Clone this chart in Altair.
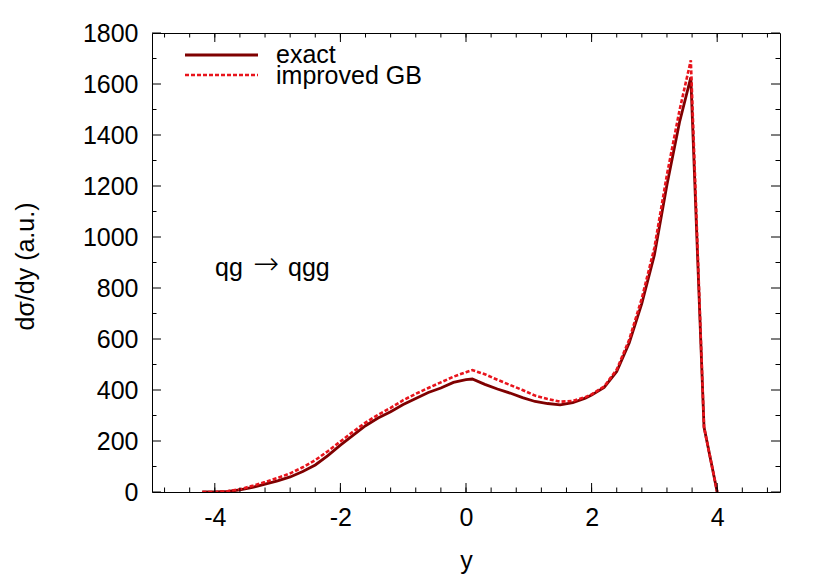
import altair as alt
import pandas as pd

# ---- data ----
y_pos = [-4.2, -4.0, -3.8, -3.6, -3.4, -3.2, -3.0, -2.8, -2.6, -2.4, -2.2, -2.0,
         -1.8, -1.6, -1.4, -1.2, -1.0, -0.8, -0.6, -0.4, -0.2, 0.0,
         0.1, 0.3, 0.5, 0.7, 0.9, 1.1, 1.3, 1.5, 1.7, 1.9,
         2.0, 2.2, 2.4, 2.6, 2.8, 3.0, 3.2, 3.4,
         3.58, 3.79, 4.0]
exact = [0, 0, 2, 8, 18, 31, 44, 59, 80, 106, 143, 184,
         222, 260, 290, 315, 343, 367, 390, 408, 430, 441,
         443, 422, 404, 388, 370, 355, 347, 342, 350, 368,
         380, 410, 472, 585, 740, 930, 1205, 1450,
         1626, 255, 0]
improved_gb = [0, 0, 3, 11, 24, 39, 55, 73, 97, 125, 160, 198,
               236, 272, 303, 330, 360, 385, 408, 430, 452, 470,
               478, 462, 440, 420, 400, 378, 365, 354, 357, 372,
               383, 414, 480, 598, 760, 958, 1245, 1497,
               1693, 255, 0]

x_major = [-4, -2, 0, 2, 4]
x_minor = [round(-4.8 + 0.4 * i, 1) for i in range(25)]
y_major = [0, 200, 400, 600, 800, 1000, 1200, 1400, 1600, 1800]
y_minor = [100, 300, 500, 700, 900, 1100, 1300, 1500, 1700]

series_names = ["exact", "improved GB"]
series_colors = ["#7f0000", "#e8141c"]
annotation_parts = ["qg", "\u2192", "qgg"]

W, H = 628, 459
FONT = "Liberation Sans"
FS = 25

df_exact = pd.DataFrame({"y": y_pos, "v": exact})
df_gb = pd.DataFrame({"y": y_pos, "v": improved_gb})

xs = alt.Scale(domain=[-5, 5], nice=False, zero=False)
ys = alt.Scale(domain=[0, 1800], nice=False)

x_axis = alt.Axis(values=x_major, title="y", titleX=W / 2, titleY=68,
                  titleBaseline="middle", titleAlign="center",
                  labelPadding=13, labelBaseline="top",
                  labelExpr="'' + datum.value")
y_axis = alt.Axis(values=y_major, title="d\u03c3/dy (a.u.)", titleX=-127, titleY=233,
                  titleAngle=270, titleAlign="center", titleBaseline="middle",
                  labelPadding=14, labelExpr="'' + datum.value")

line_exact = alt.Chart(df_exact).mark_line(
    color=series_colors[0], strokeWidth=2.8, clip=True
).encode(
    x=alt.X("y:Q", scale=xs, axis=x_axis),
    y=alt.Y("v:Q", scale=ys, axis=y_axis),
)
line_gb = alt.Chart(df_gb).mark_line(
    color=series_colors[1], strokeWidth=2.6, strokeDash=[4, 2], clip=True
).encode(
    x=alt.X("y:Q", scale=xs),
    y=alt.Y("v:Q", scale=ys),
)

# inward ticks on all four sides
def xticks(vals, length):
    d = pd.DataFrame({"t": vals})
    bot = alt.Chart(d).mark_rule(color="black", strokeWidth=1).encode(
        x=alt.X("t:Q", scale=xs), y=alt.value(H), y2=alt.value(H - length))
    top = alt.Chart(d).mark_rule(color="black", strokeWidth=1).encode(
        x=alt.X("t:Q", scale=xs), y=alt.value(0), y2=alt.value(length))
    return [bot, top]

def yticks(vals, length):
    d = pd.DataFrame({"t": vals})
    left = alt.Chart(d).mark_rule(color="black", strokeWidth=1).encode(
        y=alt.Y("t:Q", scale=ys), x=alt.value(0), x2=alt.value(length))
    right = alt.Chart(d).mark_rule(color="black", strokeWidth=1).encode(
        y=alt.Y("t:Q", scale=ys), x=alt.value(W - length), x2=alt.value(W))
    return [left, right]

ticks = xticks(x_major, 9) + xticks(x_minor, 4.5) + yticks(y_major, 9) + yticks(y_minor, 4.5)

# legend (manual, as in the reference's top-left key)
leg_df = pd.DataFrame({"name": series_names})
leg1 = alt.Chart(leg_df.iloc[[0]]).mark_rule(color=series_colors[0], strokeWidth=2.8).encode(
    x=alt.value(33), x2=alt.value(106), y=alt.value(22))
leg2 = alt.Chart(leg_df.iloc[[1]]).mark_rule(color=series_colors[1], strokeWidth=2.6, strokeDash=[4, 2]).encode(
    x=alt.value(33), x2=alt.value(106), y=alt.value(42))
leg_t1 = alt.Chart(leg_df.iloc[[0]]).mark_text(align="left", baseline="middle", font=FONT, fontSize=FS, color="black").encode(
    x=alt.value(124), y=alt.value(22), text="name:N")
leg_t2 = alt.Chart(leg_df.iloc[[1]]).mark_text(align="left", baseline="middle", font=FONT, fontSize=FS, color="black").encode(
    x=alt.value(124), y=alt.value(43), text="name:N")

# annotation "qg -> qgg" (arrow drawn larger and thin, as in the reference)
ann_q1 = alt.Chart(pd.DataFrame({"t": [annotation_parts[0]]})).mark_text(
    align="left", baseline="middle", font=FONT, fontSize=FS, color="black"
).encode(x=alt.value(63), y=alt.value(235), text="t:N")
ann_arrow = alt.Chart(pd.DataFrame({"t": [annotation_parts[1]]})).mark_text(
    align="left", baseline="middle", font="DejaVu Sans", fontSize=31, fontWeight=200, color="black"
).encode(x=alt.value(101), y=alt.value(232), text="t:N")
ann_q2 = alt.Chart(pd.DataFrame({"t": [annotation_parts[2]]})).mark_text(
    align="left", baseline="middle", font=FONT, fontSize=FS, color="black"
).encode(x=alt.value(136), y=alt.value(235), text="t:N")

chart = alt.layer(
    line_exact, line_gb, *ticks, leg1, leg2, leg_t1, leg_t2, ann_q1, ann_arrow, ann_q2
).properties(
    width=W, height=H,
    autosize=alt.AutoSizeParams(type="none"),
    padding={"left": 144, "top": 25, "right": 42, "bottom": 88},
    background="white",
).configure_view(
    stroke="black", strokeWidth=1
).configure_axis(
    grid=False, ticks=False, domain=False,
    labelFont=FONT, labelFontSize=FS, labelColor="black",
    titleFont=FONT, titleFontSize=FS, titleFontWeight="normal", titleColor="black",
)

chart.save("out.html", embed_options={"renderer": "svg", "actions": False})
